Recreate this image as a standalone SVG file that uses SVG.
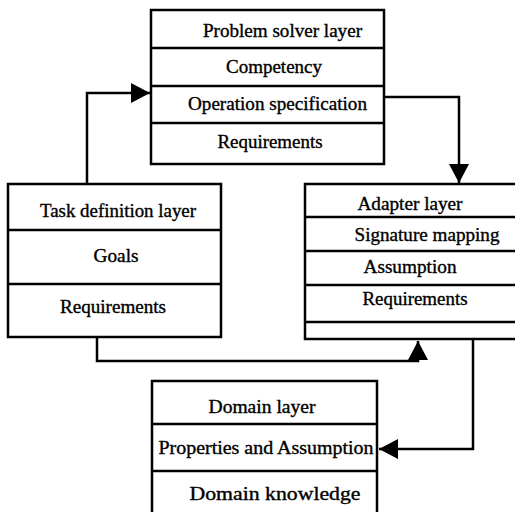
<svg xmlns="http://www.w3.org/2000/svg" width="515" height="512" viewBox="0 0 515 512">
<style>
.box{fill:#fff;stroke:#000;stroke-width:2.5}
.div{stroke:#000;stroke-width:2.5}
text{font-family:'Liberation Serif','Times New Roman','DejaVu Serif',serif;font-size:18px;fill:#000;text-anchor:middle;stroke:#000;stroke-width:0.35}
.c{fill:none;stroke:#000;stroke-width:2.5}
</style>
<defs>
<marker id="ah" markerUnits="userSpaceOnUse" markerWidth="20" markerHeight="22" viewBox="0 0 20 22" refX="19" refY="11" orient="auto">
<path d="M0,1 L19,11 L0,21 Z" fill="#000"/>
</marker>
</defs>
<rect width="515" height="512" fill="#fff"/>
<g id="connectors">
<path class="c" d="M87,184 V93 H150" marker-end="url(#ah)"/>
<path class="c" d="M384,97 H459 V183" marker-end="url(#ah)"/>
<path class="c" d="M97,337 V361 H418 V341" marker-end="url(#ah)"/>
<path class="c" d="M473,339 V449 H379" marker-end="url(#ah)"/>
</g>
<g id="problem-solver">
<rect class="box" x="151" y="10" width="233" height="154"/>
<line class="div" x1="151" y1="48" x2="384" y2="48"/>
<line class="div" x1="151" y1="86" x2="384" y2="86"/>
<line class="div" x1="151" y1="123" x2="384" y2="123"/>
<text x="282.5" y="37" textLength="159" lengthAdjust="spacingAndGlyphs">Problem solver layer</text>
<text x="274" y="73" textLength="96" lengthAdjust="spacingAndGlyphs">Competency</text>
<text x="277.5" y="110" textLength="179" lengthAdjust="spacingAndGlyphs">Operation specification</text>
<text x="270" y="148" textLength="105" lengthAdjust="spacingAndGlyphs">Requirements</text>
</g>
<g id="task-definition">
<rect class="box" x="8" y="184" width="213" height="153"/>
<line class="div" x1="8" y1="230" x2="221" y2="230"/>
<line class="div" x1="8" y1="284" x2="221" y2="284"/>
<text x="118" y="217" textLength="156" lengthAdjust="spacingAndGlyphs">Task definition layer</text>
<text x="116" y="262" textLength="45" lengthAdjust="spacingAndGlyphs">Goals</text>
<text x="113" y="313" textLength="106" lengthAdjust="spacingAndGlyphs">Requirements</text>
</g>
<g id="adapter">
<rect class="box" x="305" y="184" width="215" height="155"/>
<line class="div" x1="305" y1="217" x2="520" y2="217"/>
<line class="div" x1="305" y1="251" x2="520" y2="251"/>
<line class="div" x1="305" y1="285" x2="520" y2="285"/>
<line class="div" x1="305" y1="322" x2="520" y2="322"/>
<text x="410" y="210" textLength="105" lengthAdjust="spacingAndGlyphs">Adapter layer</text>
<text x="427" y="241" textLength="145" lengthAdjust="spacingAndGlyphs">Signature mapping</text>
<text x="410" y="273" textLength="93" lengthAdjust="spacingAndGlyphs">Assumption</text>
<text x="415" y="305" textLength="105" lengthAdjust="spacingAndGlyphs">Requirements</text>
</g>
<g id="domain">
<rect class="box" x="152" y="381" width="225" height="140"/>
<line class="div" x1="152" y1="424" x2="377" y2="424"/>
<line class="div" x1="152" y1="471" x2="377" y2="471"/>
<text x="262" y="413" textLength="107" lengthAdjust="spacingAndGlyphs">Domain layer</text>
<text x="266" y="454" textLength="215" lengthAdjust="spacingAndGlyphs">Properties and Assumption</text>
<text x="275" y="500" textLength="171" lengthAdjust="spacingAndGlyphs">Domain knowledge</text>
</g>
</svg>
